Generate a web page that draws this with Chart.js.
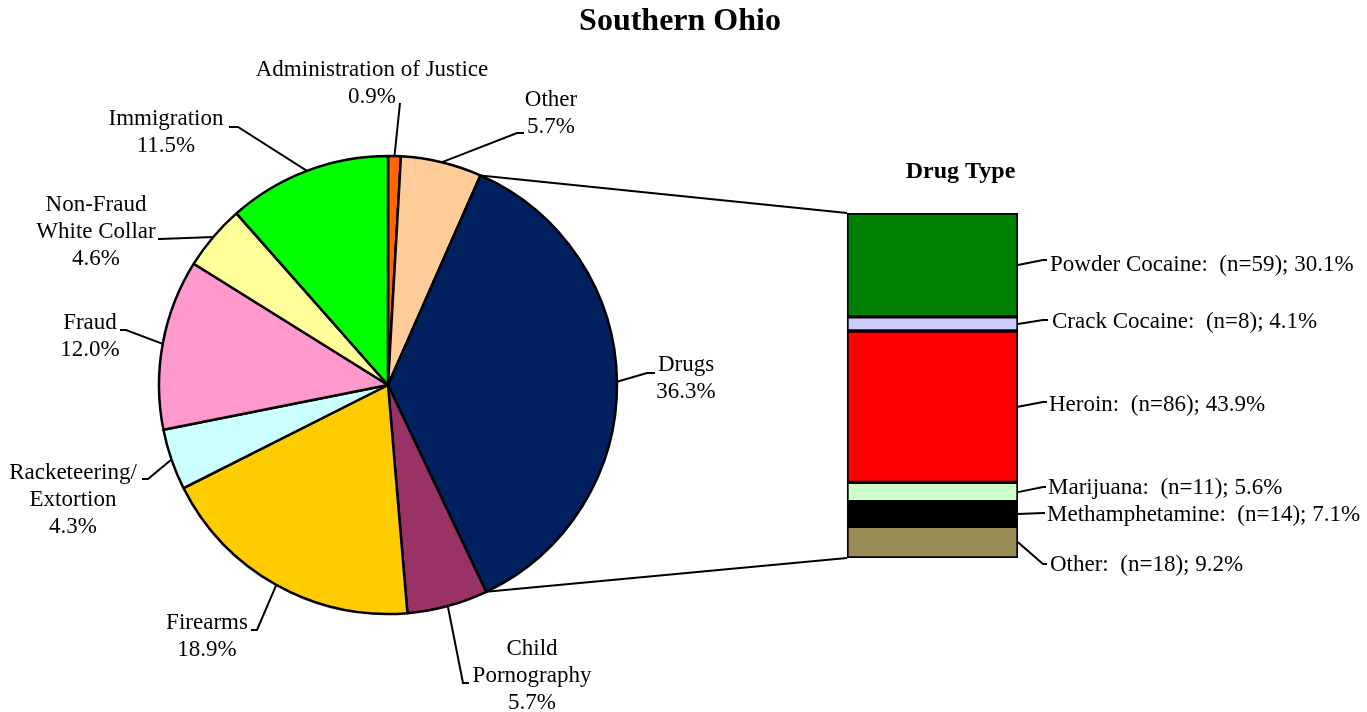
<!DOCTYPE html>
<html>
<head>
<meta charset="utf-8">
<script src="https://cdn.jsdelivr.net/npm/chart.js@4.4.1/dist/chart.umd.min.js"></script>
<style>
  html, body { margin: 0; padding: 0; background: #ffffff; }
  #wrap { position: relative; width: 1367px; height: 712px; }
  #wrap canvas { position: absolute; left: 0; top: 0; }
</style>
</head>
<body>
<div id="wrap">
  <canvas id="pieChart" width="1367" height="712"></canvas>
  <canvas id="barChart" width="1367" height="712"></canvas>
</div>
<script>
// offense categories (clockwise from 12 o'clock)
const offenseNames = ["Administration of Justice", "Other", "Drugs", "Child\nPornography", "Firearms",
    "Racketeering/\nExtortion", "Fraud", "Non-Fraud\nWhite Collar", "Immigration"];
const offensePct = [0.9, 5.7, 36.3, 5.7, 18.9, 4.3, 12.0, 4.6, 11.5];
const offenseColors = ["#ff6600", "#ffcc99", "#002060", "#993366", "#ffcc00", "#ccffff", "#ff99cc", "#ffff99", "#00ff00"];

// drug breakdown (top to bottom)
const drugNames = ["Powder Cocaine", "Crack Cocaine", "Heroin", "Marijuana", "Methamphetamine", "Other"];
const drugCounts = [59, 8, 86, 11, 14, 18];
const drugPct = [30.1, 4.1, 43.9, 5.6, 7.1, 9.2];
const drugColors = ["#008000", "#ccccff", "#ff0000", "#ccffcc", "#000000", "#978c55"];

const FONT = "23px 'Liberation Serif', 'Times New Roman', serif";
const LINE_H = 27;

// label placement for the pie (text centre, elbow and end of leader line)
const pieLabelPos = [
    { x: 372, y: 70, elbow: [400, 103], end: [400, 103] },
    { x: 551, y: 100, elbow: [517, 133], end: [524, 133] },
    { x: 686, y: 365, elbow: [647, 373], end: [655, 373] },
    { x: 532, y: 649, elbow: [463, 683], end: [469, 683] },
    { x: 207, y: 623, elbow: [257, 630], end: [251, 630] },
    { x: 73, y: 473, elbow: [148, 479], end: [142, 479] },
    { x: 90, y: 323, elbow: [126, 330], end: [120, 330] },
    { x: 96, y: 205, elbow: [160, 239], end: [158, 239] },
    { x: 166, y: 119, elbow: [238, 127], end: [229, 127] }
];

// label placement for the bar segments
const drugLabelPos = [
    { x: 1050, y: 265, elbow: [1043, 260], end: [1047, 260] },
    { x: 1052, y: 322, elbow: [1043, 320], end: [1048, 320] },
    { x: 1049, y: 405, elbow: [1043, 402], end: [1047, 402] },
    { x: 1048, y: 488, elbow: [1043, 487], end: [1046, 487] },
    { x: 1047, y: 515, elbow: [1043, 513], end: [1045, 513] },
    { x: 1050, y: 565, elbow: [1043, 564], end: [1047, 564] }
];

let pieChart;
let barChart;

const pieLabels = {
    id: "pieLabels",
    afterDraw(chart) {
        const ctx = chart.ctx;
        const arcs = chart.getDatasetMeta(0).data;
        ctx.save();
        // title
        ctx.fillStyle = "#000";
        ctx.textAlign = "center";
        ctx.textBaseline = "middle";
        ctx.font = "bold 32px 'Liberation Serif', 'Times New Roman', serif";
        ctx.fillText("Southern Ohio", 680, 22);

        ctx.font = FONT;
        ctx.strokeStyle = "#000";
        ctx.lineWidth = 2;
        arcs.forEach((arc, i) => {
            const p = pieLabelPos[i];
            const mid = (arc.startAngle + arc.endAngle) / 2;
            const sx = arc.x + arc.outerRadius * Math.cos(mid);
            const sy = arc.y + arc.outerRadius * Math.sin(mid);
            ctx.beginPath();
            ctx.moveTo(sx, sy);
            ctx.lineTo(p.elbow[0], p.elbow[1]);
            ctx.lineTo(p.end[0], p.end[1]);
            ctx.stroke();

            const lines = offenseNames[i].split("\n");
            lines.push(offensePct[i].toFixed(1) + "%");
            lines.forEach((t, k) => {
                ctx.fillText(t, p.x, p.y + k * LINE_H);
            });
        });
        ctx.restore();
    }
};

pieChart = new Chart(document.getElementById("pieChart"), {
    type: "pie",
    data: {
        labels: offenseNames,
        datasets: [{
            data: offensePct,
            backgroundColor: offenseColors,
            borderColor: "#000000",
            borderWidth: 2.5
        }]
    },
    options: {
        responsive: false,
        animation: false,
        events: [],
        radius: 229,
        layout: { padding: { left: 150, right: 741, top: 150, bottom: 92 } },
        plugins: {
            legend: { display: false },
            tooltip: { enabled: false }
        }
    },
    plugins: [pieLabels]
});

const barLabels = {
    id: "barLabels",
    afterDraw(chart) {
        const ctx = chart.ctx;
        const area = chart.chartArea;
        ctx.save();
        ctx.fillStyle = "#000";
        ctx.strokeStyle = "#000";
        ctx.lineWidth = 2;

        // connector lines from the Drugs slice to the bar
        const drugArc = pieChart.getDatasetMeta(0).data[2];
        const a1 = drugArc.startAngle, a2 = drugArc.endAngle, r = drugArc.outerRadius;
        ctx.beginPath();
        ctx.moveTo(drugArc.x + r * Math.cos(a1), drugArc.y + r * Math.sin(a1));
        ctx.lineTo(area.left, area.top);
        ctx.moveTo(drugArc.x + r * Math.cos(a2), drugArc.y + r * Math.sin(a2));
        ctx.lineTo(area.left, area.bottom);
        ctx.stroke();

        // heading
        ctx.textAlign = "center";
        ctx.textBaseline = "middle";
        ctx.font = "bold 24px 'Liberation Serif', 'Times New Roman', serif";
        ctx.fillText("Drug Type", (area.left + area.right) / 2 + 28, 172);

        ctx.font = FONT;
        ctx.textAlign = "left";
        drugNames.forEach((name, i) => {
            const bar = chart.getDatasetMeta(i).data[0];
            const p = drugLabelPos[i];
            const sy = (bar.y + bar.base) / 2;
            ctx.beginPath();
            ctx.moveTo(area.right, sy);
            ctx.lineTo(p.elbow[0], p.elbow[1]);
            ctx.lineTo(p.end[0], p.end[1]);
            ctx.stroke();
            ctx.fillText(name + ":  (n=" + drugCounts[i] + "); " + drugPct[i].toFixed(1) + "%", p.x, p.y);
        });
        ctx.restore();
    }
};

barChart = new Chart(document.getElementById("barChart"), {
    type: "bar",
    data: {
        labels: ["Drugs"],
        datasets: drugNames.map((name, i) => ({
            label: name,
            data: [drugPct[i]],
            backgroundColor: drugColors[i],
            borderColor: "#000000",
            borderWidth: 2,
            borderSkipped: false,
            barPercentage: 1,
            categoryPercentage: 1
        }))
    },
    options: {
        responsive: false,
        animation: false,
        events: [],
        layout: { padding: { left: 847, right: 349, top: 213, bottom: 154 } },
        scales: {
            x: { stacked: true, display: false },
            y: { stacked: true, display: false, reverse: true, min: 0, max: 100 }
        },
        plugins: {
            legend: { display: false },
            tooltip: { enabled: false }
        }
    },
    plugins: [barLabels]
});
</script>
</body>
</html>
